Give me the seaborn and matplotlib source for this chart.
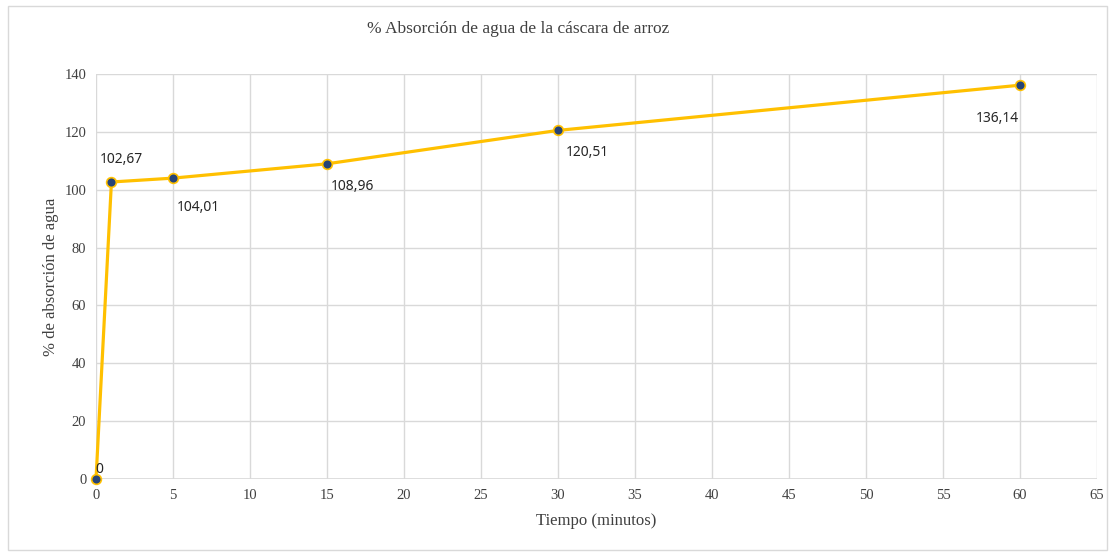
import pandas as pd
import matplotlib.pyplot as plt
import seaborn as sns
from matplotlib.patches import Rectangle

plt.switch_backend('Agg')

# Datos
tiempo = [0, 1, 5, 15, 30, 60]
absorcion = [0, 102.67, 104.01, 108.96, 120.51, 136.14]
etiquetas = ['0', '102,67', '104,01', '108,96', '120,51', '136,14']
x_ticks = list(range(0, 70, 5))
y_ticks = list(range(0, 160, 20))

df = pd.DataFrame({'Tiempo': tiempo, 'Absorcion': absorcion})

sns.set_style('white')
plt.rcParams['font.family'] = ['Liberation Serif', 'DejaVu Serif']

fig = plt.figure(figsize=(11.14, 5.54), dpi=100)
ax = fig.add_axes([0.0862, 0.1354, 0.8985, 0.731])

sns.lineplot(data=df, x='Tiempo', y='Absorcion', ax=ax, color='#FFC000',
             linewidth=2.3, marker='o', markersize=7,
             markerfacecolor='#264478', markeredgecolor='#FFC000',
             markeredgewidth=1.2, zorder=3, clip_on=False)

ax.set_xlim(0, 65)
ax.set_ylim(0, 140)
ax.set_xticks(x_ticks)
ax.set_yticks(y_ticks)
ax.tick_params(axis='both', labelsize=10.5, colors='#404040', length=0, pad=7)
ax.grid(True, color='#D9D9D9', linewidth=1)
for s in ax.spines.values():
    s.set_visible(False)
ax.axhline(0, color='#D9D9D9', linewidth=1.2, zorder=1)

ax.set_xlabel('Tiempo (minutos)', fontsize=12, color='#404040', labelpad=8)
ax.set_ylabel('% de absorción de agua', fontsize=12, color='#404040', labelpad=4)
fig.text(0.465, 0.948, '% Absorción de agua de la cáscara de arroz',
         fontsize=12.5, color='#404040', ha='center', va='center')

# desplazamiento del centro de cada etiqueta respecto al punto (pixeles)
offsets = [(3, 9), (10, 22), (25, -29), (25, -23), (29, -22), (-23, -33)]
for x, y, t, (dx, dy) in zip(tiempo, absorcion, etiquetas, offsets):
    ax.annotate(t, (x, y), xytext=(dx, dy), textcoords='offset pixels',
                ha='center', va='center', fontsize=10, color='#262626',
                family=['Noto Sans', 'DejaVu Sans'], annotation_clip=False)

fig.patches.append(Rectangle((0.007, 0.008), 0.987, 0.981, transform=fig.transFigure,
                             fill=False, edgecolor='#D9D9D9', linewidth=1))

plt.savefig('out.png', dpi=100)
plt.close()
